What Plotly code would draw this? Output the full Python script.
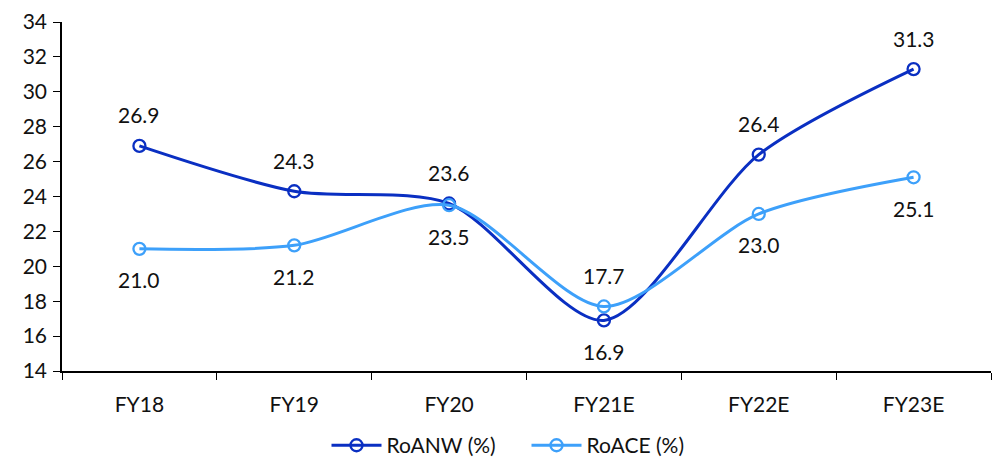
import plotly.graph_objects as go

years = ["FY18", "FY19", "FY20", "FY21E", "FY22E", "FY23E"]
roanw = [26.9, 24.3, 23.6, 16.9, 26.4, 31.3]
roace = [21.0, 21.2, 23.5, 17.7, 23.0, 25.1]

# label side per point: +1 above, -1 below
roanw_side = [1, 1, 1, -1, 1, 1]
roace_side = [-1, -1, -1, 1, -1, -1]

dark = "#0A2FC2"
light = "#3DA0FA"
font = "Lato, Open Sans, sans-serif"

fig = go.Figure()
for rank, (name, vals, col) in enumerate([("RoANW (%)", roanw, dark), ("RoACE (%)", roace, light)]):
    fig.add_trace(go.Scatter(
        x=years, y=vals, name=name, mode="lines+markers", legendrank=rank + 1,
        line=dict(color=col, width=3, shape="spline", smoothing=0.8),
        marker=dict(symbol="circle-open", size=12, color=col, line=dict(width=2.3, color=col)),
    ))

for vals, sides in [(roanw, roanw_side), (roace, roace_side)]:
    for x, v, s in zip(years, vals, sides):
        fig.add_annotation(x=x, y=v, text=f"{v:.1f}", showarrow=False,
                           yshift=31 * s, font=dict(size=21, color="#111", family=font))

fig.update_layout(
    width=997, height=459,
    margin=dict(l=62, r=6, t=22, b=88, autoexpand=False),
    plot_bgcolor="white", paper_bgcolor="white",
    font=dict(family=font, size=21, color="#111"),
    showlegend=True,
    legend=dict(orientation="h", x=0.5, xanchor="center", y=-0.155, yanchor="top",
                font=dict(size=21), itemwidth=50, entrywidth=135, entrywidthmode="pixels"),
    xaxis=dict(type="category", range=[-0.5, 5.5], showline=True, linecolor="black",
               linewidth=1.5, ticks="outside", tickson="boundaries", ticklen=7,
               tickcolor="black", showgrid=False, tickfont=dict(size=21),
               ticklabelstandoff=14),
    yaxis=dict(range=[14, 34], dtick=2, showline=True, linecolor="black", linewidth=1.5,
               ticks="outside", ticklen=7, tickcolor="black", showgrid=False,
               zeroline=False, tickfont=dict(size=21), ticklabelstandoff=2),
)

fig.write_html("out.html")
